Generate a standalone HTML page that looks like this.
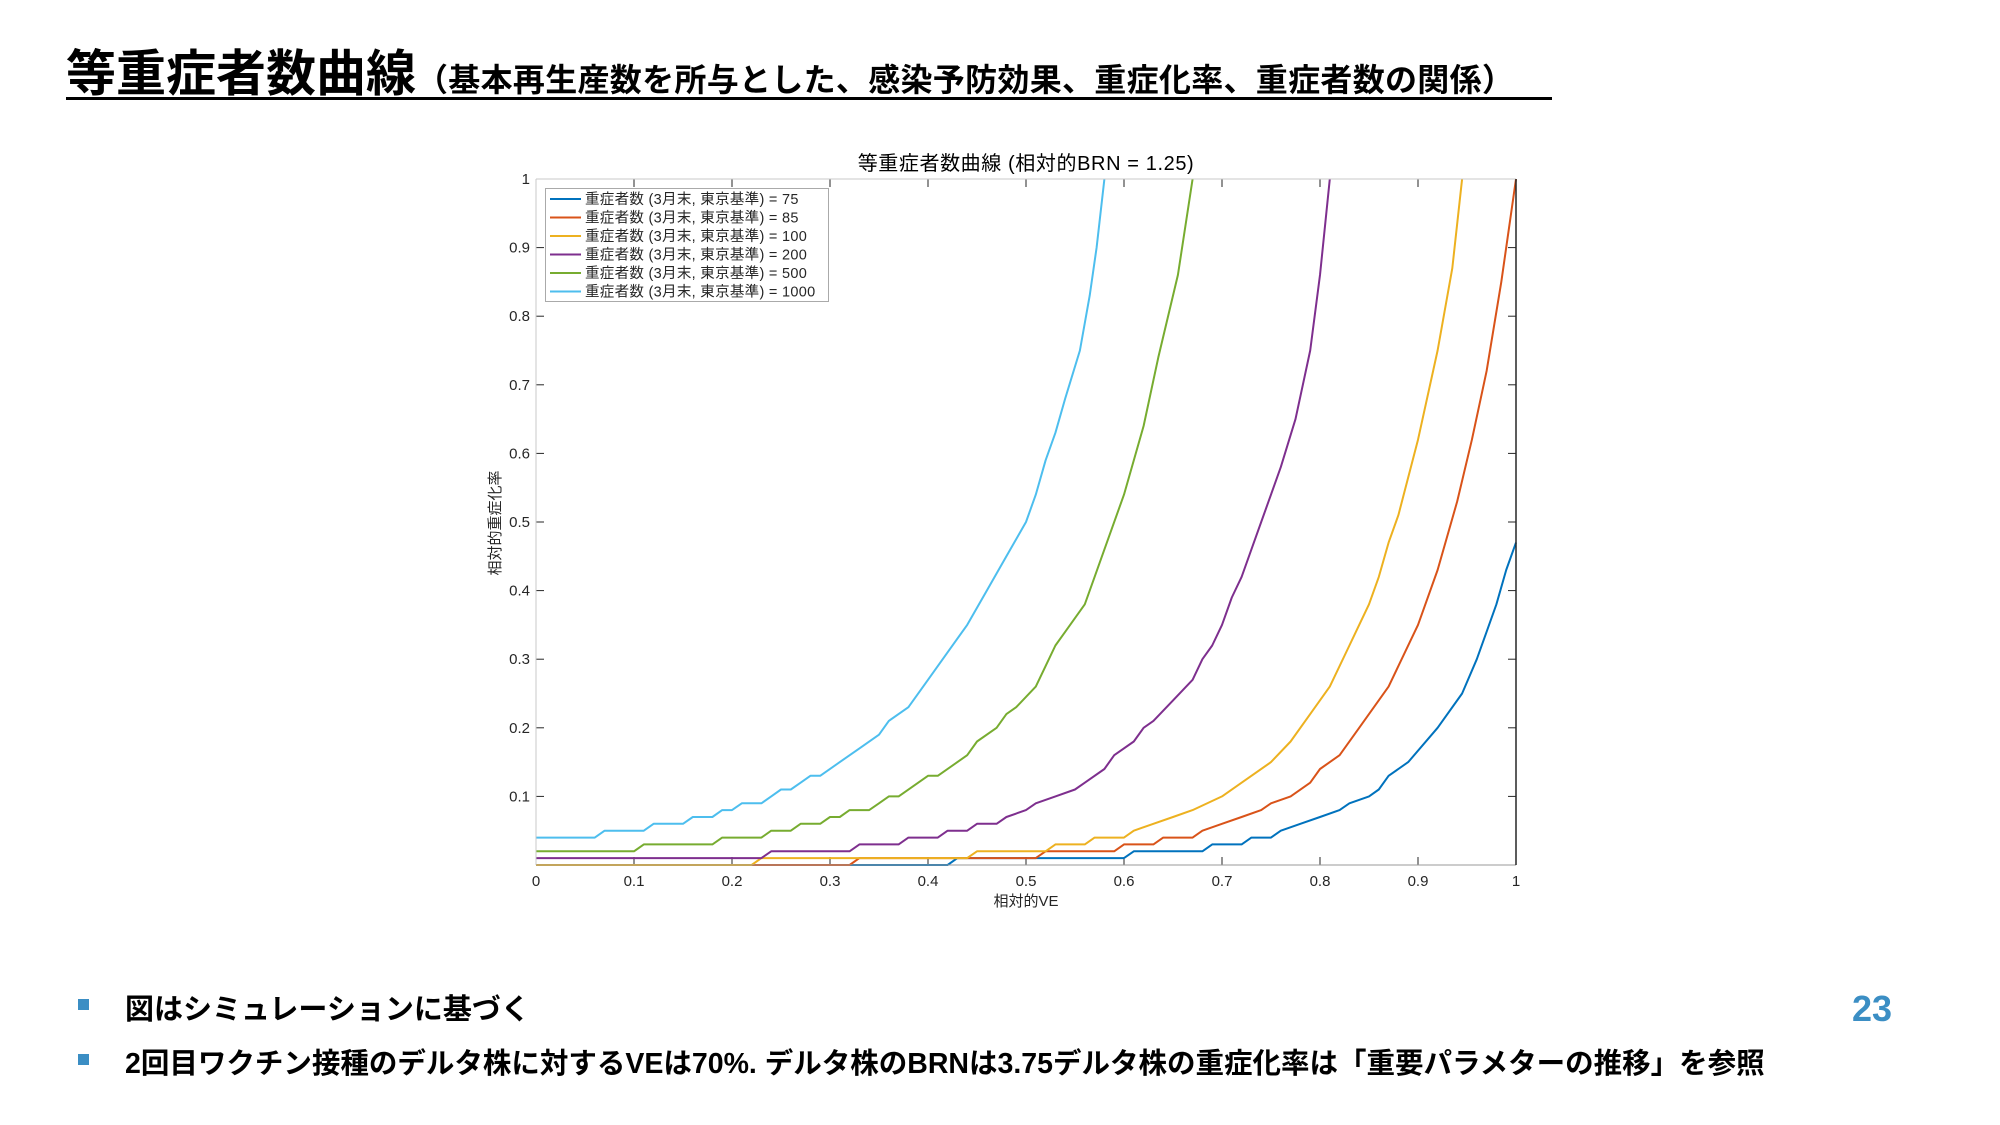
<!DOCTYPE html>
<html><head><meta charset="utf-8"><style>
body{margin:0;width:2000px;height:1125px;background:#fff;overflow:hidden;position:relative;font-family:"Liberation Sans","Noto Sans CJK JP",sans-serif}
.t{position:absolute;white-space:nowrap;color:#000}
</style></head><body>
<div class="t" style="left:66px;top:44px;font-size:50px;font-weight:bold;line-height:60px">等重症者数曲線<span style="font-size:32px;letter-spacing:0.3px">（基本再生産数を所与とした、感染予防効果、重症化率、重症者数の関係）</span></div>
<div style="position:absolute;left:66px;top:97px;width:1486px;height:3px;background:#000"></div>
<div style="position:absolute;left:78px;top:999px;width:11px;height:11px;background:#3b8ec4"></div>
<div style="position:absolute;left:78px;top:1054px;width:11px;height:11px;background:#3b8ec4"></div>
<div class="t" style="left:125px;top:986px;font-size:29px;font-weight:bold">図はシミュレーションに基づく</div>
<div class="t" style="left:125px;top:1041px;font-size:28.5px;font-weight:bold">2回目ワクチン接種のデルタ株に対するVEは70%. デルタ株のBRNは3.75デルタ株の重症化率は「重要パラメターの推移」を参照</div>
<div class="t" style="left:1852px;top:988px;font-size:36px;font-weight:bold;color:#3b8ec4">23</div>
<svg id="s" width="2000" height="1125" style="position:absolute;left:0;top:0" font-family="Liberation Sans, Noto Sans CJK JP, sans-serif"></svg>
<script>
var X0=536,X1=1516,Y0=865,Y1=179;
function px(x){return X0+(X1-X0)*x} function py(y){return Y0-(Y0-Y1)*y}
var s='';
s+='<text x="1026" y="170" font-size="20" letter-spacing="0.6" text-anchor="middle">等重症者数曲線 (相対的BRN = 1.25)</text>';
for(var i=0;i<=10;i++){var x=px(i/10);
 s+='<line x1="'+x+'" y1="'+Y0+'" x2="'+x+'" y2="'+(Y0-8)+'" stroke="#262626"/><line x1="'+x+'" y1="'+Y1+'" x2="'+x+'" y2="'+(Y1+8)+'" stroke="#262626"/>';
 s+='<text x="'+x+'" y="886" font-size="15" text-anchor="middle" fill="#262626">'+(i==0?'0':i==10?'1':'0.'+i)+'</text>';}
for(var i=1;i<=10;i++){var y=py(i/10);
 s+='<line x1="'+X0+'" y1="'+y+'" x2="'+(X0+8)+'" y2="'+y+'" stroke="#262626"/><line x1="'+X1+'" y1="'+y+'" x2="'+(X1-8)+'" y2="'+y+'" stroke="#262626"/>';
 s+='<text x="530" y="'+(y+5)+'" font-size="15" text-anchor="end" fill="#262626">'+(i==10?'1':'0.'+i)+'</text>';}
s+='<text x="1026" y="906" font-size="15" text-anchor="middle" fill="#262626">相対的VE</text>';
s+='<text transform="translate(500,523) rotate(-90)" font-size="15" text-anchor="middle" fill="#262626">相対的重症化率</text>';
var D=[
['#0072BD',[[0,0],[0.42,0],[0.43,0.01],[0.6,0.01],[0.61,0.02],[0.68,0.02],[0.69,0.03],[0.72,0.03],[0.73,0.04],[0.75,0.04],[0.76,0.05],[0.78,0.06],[0.8,0.07],[0.82,0.08],[0.83,0.09],[0.85,0.1],[0.86,0.11],[0.87,0.13],[0.89,0.15],[0.92,0.2],[0.945,0.25],[0.96,0.3],[0.97,0.34],[0.98,0.38],[0.99,0.43],[1,0.47]]],
['#D95319',[[0,0],[0.32,0],[0.33,0.01],[0.51,0.01],[0.52,0.02],[0.59,0.02],[0.6,0.03],[0.63,0.03],[0.64,0.04],[0.67,0.04],[0.68,0.05],[0.7,0.06],[0.72,0.07],[0.74,0.08],[0.75,0.09],[0.77,0.1],[0.79,0.12],[0.8,0.14],[0.82,0.16],[0.84,0.2],[0.87,0.26],[0.9,0.35],[0.92,0.43],[0.94,0.53],[0.955,0.62],[0.97,0.72],[0.985,0.85],[1,1]]],
['#EDB120',[[0,0],[0.22,0],[0.23,0.01],[0.44,0.01],[0.45,0.02],[0.52,0.02],[0.53,0.03],[0.56,0.03],[0.57,0.04],[0.6,0.04],[0.61,0.05],[0.63,0.06],[0.65,0.07],[0.67,0.08],[0.7,0.1],[0.72,0.12],[0.75,0.15],[0.77,0.18],[0.79,0.22],[0.81,0.26],[0.83,0.32],[0.85,0.38],[0.86,0.42],[0.87,0.47],[0.88,0.51],[0.9,0.62],[0.92,0.75],[0.935,0.87],[0.945,1]]],
['#7E2F8E',[[0,0.01],[0.23,0.01],[0.24,0.02],[0.32,0.02],[0.33,0.03],[0.37,0.03],[0.38,0.04],[0.41,0.04],[0.42,0.05],[0.44,0.05],[0.45,0.06],[0.47,0.06],[0.48,0.07],[0.5,0.08],[0.51,0.09],[0.53,0.1],[0.55,0.11],[0.56,0.12],[0.58,0.14],[0.59,0.16],[0.61,0.18],[0.62,0.2],[0.63,0.21],[0.65,0.24],[0.67,0.27],[0.68,0.3],[0.69,0.32],[0.7,0.35],[0.71,0.39],[0.72,0.42],[0.73,0.46],[0.74,0.5],[0.76,0.58],[0.775,0.65],[0.79,0.75],[0.8,0.86],[0.81,1]]],
['#77AC30',[[0,0.02],[0.1,0.02],[0.11,0.03],[0.18,0.03],[0.19,0.04],[0.23,0.04],[0.24,0.05],[0.26,0.05],[0.27,0.06],[0.29,0.06],[0.3,0.07],[0.31,0.07],[0.32,0.08],[0.34,0.08],[0.35,0.09],[0.36,0.1],[0.37,0.1],[0.39,0.12],[0.4,0.13],[0.41,0.13],[0.43,0.15],[0.44,0.16],[0.45,0.18],[0.47,0.2],[0.48,0.22],[0.49,0.23],[0.51,0.26],[0.52,0.29],[0.53,0.32],[0.54,0.34],[0.56,0.38],[0.57,0.42],[0.58,0.46],[0.6,0.54],[0.62,0.64],[0.635,0.74],[0.655,0.86],[0.67,1]]],
['#4DBEEE',[[0,0.04],[0.06,0.04],[0.07,0.05],[0.11,0.05],[0.12,0.06],[0.15,0.06],[0.16,0.07],[0.18,0.07],[0.19,0.08],[0.2,0.08],[0.21,0.09],[0.23,0.09],[0.24,0.1],[0.25,0.11],[0.26,0.11],[0.27,0.12],[0.28,0.13],[0.29,0.13],[0.31,0.15],[0.33,0.17],[0.35,0.19],[0.36,0.21],[0.38,0.23],[0.4,0.27],[0.42,0.31],[0.44,0.35],[0.46,0.4],[0.48,0.45],[0.5,0.5],[0.51,0.54],[0.52,0.59],[0.53,0.63],[0.54,0.68],[0.555,0.75],[0.565,0.83],[0.572,0.9],[0.58,1]]]];
for(var k=0;k<D.length;k++){var p=D[k][1].map(function(a){return px(a[0]).toFixed(1)+','+py(a[1]).toFixed(1)}).join(' ');
 s+='<polyline points="'+p+'" fill="none" stroke="'+D[k][0]+'" stroke-width="2" stroke-linejoin="round"/>';}
s+='<line x1="'+X0+'" y1="'+Y1+'" x2="'+X1+'" y2="'+Y1+'" stroke="#c8c8c8"/>';
s+='<line x1="'+X0+'" y1="'+Y1+'" x2="'+X0+'" y2="'+Y0+'" stroke="#c8c8c8"/>';
s+='<line x1="'+X0+'" y1="'+Y0+'" x2="'+X1+'" y2="'+Y0+'" stroke="#999"/>';
s+='<line x1="'+X1+'" y1="'+Y1+'" x2="'+X1+'" y2="'+Y0+'" stroke="#262626" stroke-width="1.5"/>';
s+='<rect x="545.5" y="188.5" width="283" height="113" fill="#fff" stroke="#aaa"/>';
var L=['75','85','100','200','500','1000'];
for(var k=0;k<6;k++){var y=199+k*18.5;
 s+='<line x1="550" y1="'+y+'" x2="581" y2="'+y+'" stroke="'+D[k][0]+'" stroke-width="2"/>';
 s+='<text x="585" y="'+(y+5)+'" font-size="14.5" letter-spacing="0.3" fill="#262626">重症者数 (3月末, 東京基準) = '+L[k]+'</text>';}
document.getElementById('s').innerHTML=s;
</script>
</body></html>
